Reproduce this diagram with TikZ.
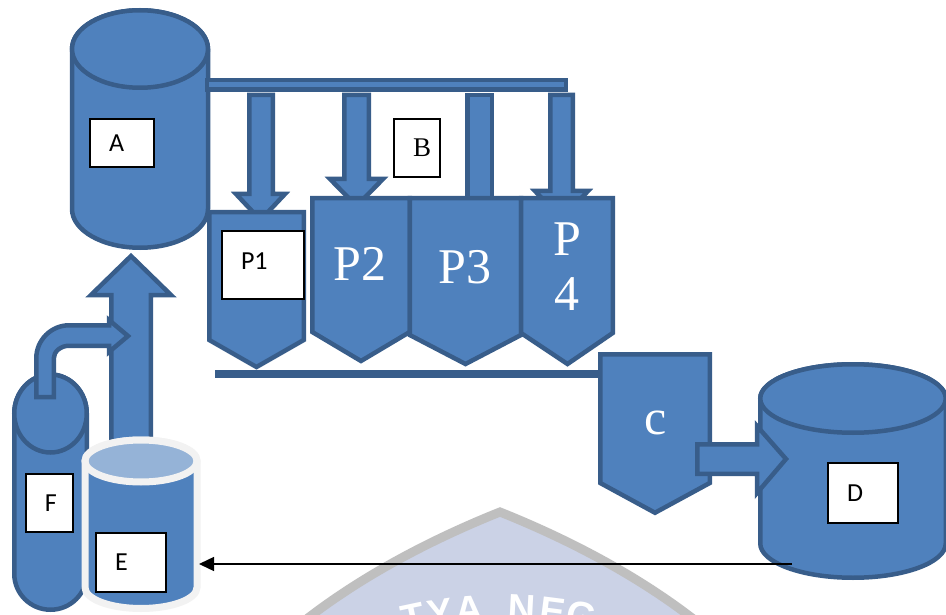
\documentclass[tikz,border=0pt]{standalone}
\usepackage{fontspec}
\setmainfont{Liberation Serif}
\newfontfamily\calib{Carlito}
\newfontfamily\wmfont{Liberation Sans}
\usetikzlibrary{arrows.meta}
\definecolor{bfill}{HTML}{4F81BD}
\definecolor{bline}{HTML}{385D8A}
\definecolor{etop}{HTML}{95B3D7}
\definecolor{erim}{HTML}{F2F2F2}
\definecolor{wmfill}{HTML}{CBD2E6}
\definecolor{wmline}{HTML}{BFBFBF}
\newcommand\lbltxt[2]{\makebox[#1][l]{\hspace{19pt}#2}}
\begin{document}
\begin{tikzpicture}[x=1pt,y=-1pt,
  shp/.style={fill=bfill,draw=bline,line width=4.5pt,line join=miter},
  lbl/.style={draw=black,fill=white,line width=1.1pt,inner sep=0pt,font=\calib\fontsize{26}{28}\selectfont},
  bigw/.style={text=white,font=\fontsize{50}{55}\selectfont,inner sep=0pt,anchor=base,align=center},
  wm/.style={text=white,font=\wmfont\bfseries\fontsize{38}{38}\selectfont,inner sep=0pt,anchor=base}]
\useasboundingbox (0,0) rectangle (946,615);
\clip (0,0) rectangle (946,615);
\fill[white] (0,0) rectangle (946,615);

% watermark
\draw[fill=wmfill,draw=wmline,line width=9pt] (270,650) .. controls (340,585) and (430,540) .. (500,512) .. controls (570,540) and (660,585) .. (730,650) -- cycle;
\node[wm,rotate=12] (w1) at (416,629.7) {T};
\node[wm,rotate=8.3] (w2) at (442,625.2) {Y};
\node[wm,rotate=4.3] (w3) at (470,622.1) {A};
\node[wm,rotate=-3] (w4) at (521,621.6) {N};
\node[wm,rotate=-7.3] (w5) at (551,624.3) {E};
\node[wm,rotate=-11.2] (w6) at (579,628.7) {G};

% cylinder A
\draw[shp] (72,49) -- (72,209) arc[start angle=180,end angle=0,x radius=68,y radius=38.75] -- (208,49) arc[start angle=0,end angle=-180,x radius=68,y radius=38.75] -- cycle;
\draw[shp] (140,49) ellipse [x radius=68,y radius=38.75];

% pipe B
\draw[shp] (207,80) rectangle (566,89.5);

% down arrows
\draw[shp] (249.25,95) -- (272.75,95) -- (272.75,194) -- (285,194) -- (260.5,220) -- (236,194) -- (249.25,194) -- cycle;
\draw[shp] (344.25,95) -- (368.75,95) -- (368.75,179) -- (383,179) -- (356.5,206) -- (330,179) -- (344.25,179) -- cycle;
\draw[shp] (467.25,95) rectangle (491.75,205);
\draw[shp] (550.25,95) -- (572.75,95) -- (572.75,191) -- (588,191) -- (561.5,219) -- (535,191) -- (550.25,191) -- cycle;

% hoppers P1..P4
\draw[shp] (209.25,212.25) -- (303.75,212.25) -- (303.75,340) -- (256.5,367) -- (209.25,340) -- cycle;
\draw[shp] (312.25,198.25) -- (409.75,198.25) -- (409.75,332) -- (361,361) -- (312.25,332) -- cycle;
\draw[shp] (409.75,198.25) -- (521,198.25) -- (521,335) -- (465.5,364) -- (409.75,335) -- cycle;
\draw[shp] (521,198.25) -- (612.75,198.25) -- (612.75,333) -- (567.5,364) -- (521,333) -- cycle;

% bottom bar
\fill[bline] (215,370) rectangle (600,378);

% C
\draw[shp] (600.25,354.25) -- (709.75,354.25) -- (709.75,483) -- (655,512.75) -- (600.25,483) -- cycle;

% cylinder D
\draw[shp] (760.25,398.5) -- (760.25,543.5) arc[start angle=180,end angle=0,x radius=92.75,y radius=34.25] -- (945.75,398.5) arc[start angle=0,end angle=-180,x radius=92.75,y radius=34.25] -- cycle;
\draw[shp] (853,398.5) ellipse [x radius=92.75,y radius=34.25];

% arrow C -> D
\draw[shp] (697.25,444.25) -- (757,444.25) -- (757,426) -- (786,459) -- (757,493) -- (757,473.75) -- (697.25,473.75) -- cycle;

% big up arrow E -> A
\draw[shp] (111.25,445) -- (111.25,295) -- (91,295) -- (131,256) -- (171,295) -- (150.75,295) -- (150.75,445) -- cycle;

% F capsule
\draw[shp] (14.25,413.5) arc[start angle=180,end angle=360,x radius=36.25,y radius=39] -- (86.75,573.75) arc[start angle=0,end angle=180,x radius=36.25,y radius=36] -- cycle;
\draw[shp] (50.5,413.5) ellipse [x radius=36.25,y radius=39];

% bent arrow F -> up arrow
\draw[shp] (36.25,397) -- (36.25,358.5) arc[start angle=180,end angle=270,x radius=33,y radius=33.25] -- (109,325.25) -- (109,320) -- (128,336) -- (109,352) -- (109,345.75) -- (69.25,345.75) arc[start angle=270,end angle=180,x radius=15.5,y radius=12.75] -- (53.75,397) -- cycle;

% E cylinder
\draw[fill=bfill,draw=erim,line width=7pt] (85,461) -- (85,587.5) arc[start angle=180,end angle=0,x radius=56,y radius=21] -- (197,461) arc[start angle=0,end angle=-180,x radius=56,y radius=21] -- cycle;
\draw[fill=etop,draw=erim,line width=7pt] (141,461) ellipse [x radius=56,y radius=21];

% labels
\node[lbl,minimum height=48pt] (la) at (122,143) {\lbltxt{64pt}{A}};
\node[lbl,minimum height=68pt] (lp1) at (263,265) {\raisebox{7pt}{\lbltxt{82pt}{P1}}};
\node[lbl,minimum height=58pt,font=\fontsize{27}{29}\selectfont] (lb) at (417,148) {\lbltxt{46pt}{B}};
\node[lbl,minimum height=60pt] (ld) at (863,493) {\lbltxt{70pt}{D}};
\node[lbl,minimum height=59pt] (le) at (131,562.5) {\lbltxt{70pt}{E}};
\node[lbl,minimum height=58pt] (lf) at (49.5,503) {\lbltxt{47pt}{F}};

\node[bigw] (tp2) at (360,280) {P2};
\node[bigw] (tp3) at (465,283) {P3};
\node[bigw] (tp4) at (567,310) {P\\4};
\node[bigw] (tc) at (655.5,434) {c};

% return line D -> E
\coordinate (dOut) at (792,564);
\coordinate (eIn) at (199,564);
\draw[line width=1.4pt,-{Triangle[length=15pt,width=14pt]}] (dOut) -- (eIn);
\end{tikzpicture}
\end{document}
